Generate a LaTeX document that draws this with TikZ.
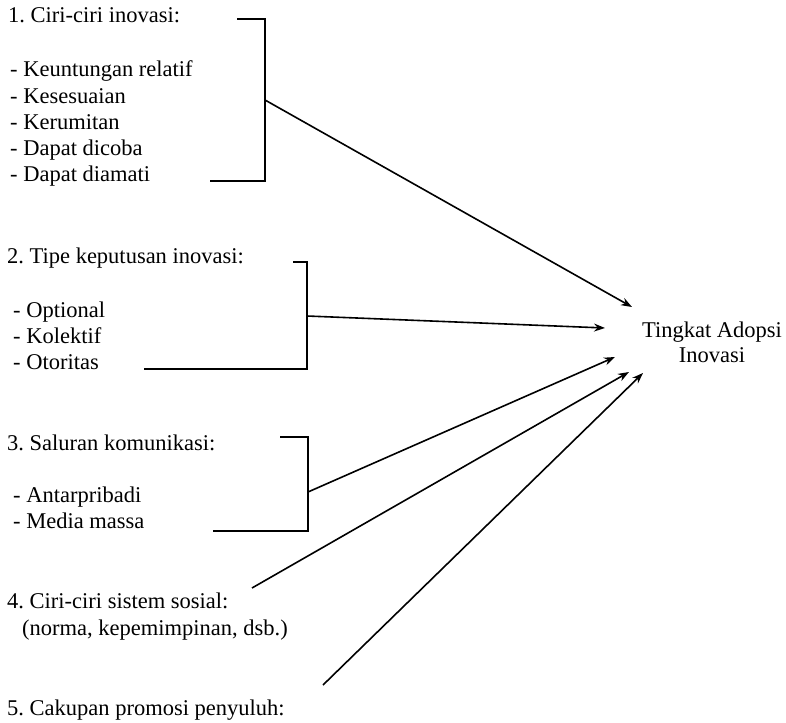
\documentclass[tikz,border=0pt]{standalone}
\usepackage{fontspec}
\setmainfont{Liberation Serif}
\usetikzlibrary{arrows.meta}
\tikzset{txt/.style={anchor=base west,inner sep=0pt,font=\fontsize{22.5}{25}\selectfont\frenchspacing},
 brk/.style={line width=1.7pt},
 arr/.style={line width=1.6pt,-{Stealth[length=11pt,width=8pt]}},
 }

\begin{document}
\begin{tikzpicture}[x=1pt,y=-1pt]
    \useasboundingbox (0,0) rectangle (786,722);
    \node[txt] (h1) at (8,23) {1. Ciri-ciri inovasi:};
    \foreach \t [count=\i] in {Keuntungan relatif, Kesesuaian, Kerumitan, Dapat dicoba, Dapat diamati} {
        \node[txt] (c\i) at (10,{77+26.2*(\i-1)}) {- \t};
    }
    \node[txt] (h2) at (7,263) {2. Tipe keputusan inovasi:};
    \foreach \t [count=\i] in {Optional, Kolektif, Otoritas} {
        \node[txt] (k\i) at (13,{317+26*(\i-1)}) {- \t};
    }
    \node[txt] (h3) at (7,450) {3. Saluran komunikasi:};
    \foreach \t [count=\i] in {Antarpribadi, Media massa} {
        \node[txt] (s\i) at (13,{502+26*(\i-1)}) {- \t};
    }
    \node[txt] (h4) at (7,608) {4. Ciri-ciri sistem sosial:};
    \node[txt] (h4b) at (22,635) {(norma, kepemimpinan, dsb.)};
    \node[txt] (h5) at (7,715) {5. Cakupan promosi penyuluh:};
    \node[anchor=north,inner sep=0pt,align=center,font=\fontsize{22.5}{25}\selectfont] (adopsi) at (712,321.6) {Tingkat Adopsi\\Inovasi};

    \coordinate (b1t) at (237,19);
    \coordinate (b1m) at (265,100);
    \coordinate (b1b) at (210,181);
    \coordinate (b2t) at (293,262);
    \coordinate (b2m) at (307,316);
    \coordinate (b2b) at (144,369);
    \coordinate (b3t) at (280,437);
    \coordinate (b3m) at (308,492);
    \coordinate (b3b) at (213,531);
    \coordinate (l4) at (252,588);
    \coordinate (l5) at (323,685);
    \coordinate (t1) at (632,307);
    \coordinate (t2) at (605,328);
    \coordinate (t3) at (615,357);
    \coordinate (t4) at (629,372);
    \coordinate (t5) at (643,373);

    \draw[brk] (b1t) -| (b1m) |- (b1b);
    \draw[brk] (b2t) -| (b2m) |- (b2b);
    \draw[brk] (b3t) -| (b3m) |- (b3b);
    \draw[arr] (b1m) -- (t1);
    \draw[arr] (b2m) -- (t2);
    \draw[arr] (b3m) -- (t3);
    \draw[arr] (l4) -- (t4);
    \draw[arr] (l5) -- (t5);
\end{tikzpicture}
\end{document}
